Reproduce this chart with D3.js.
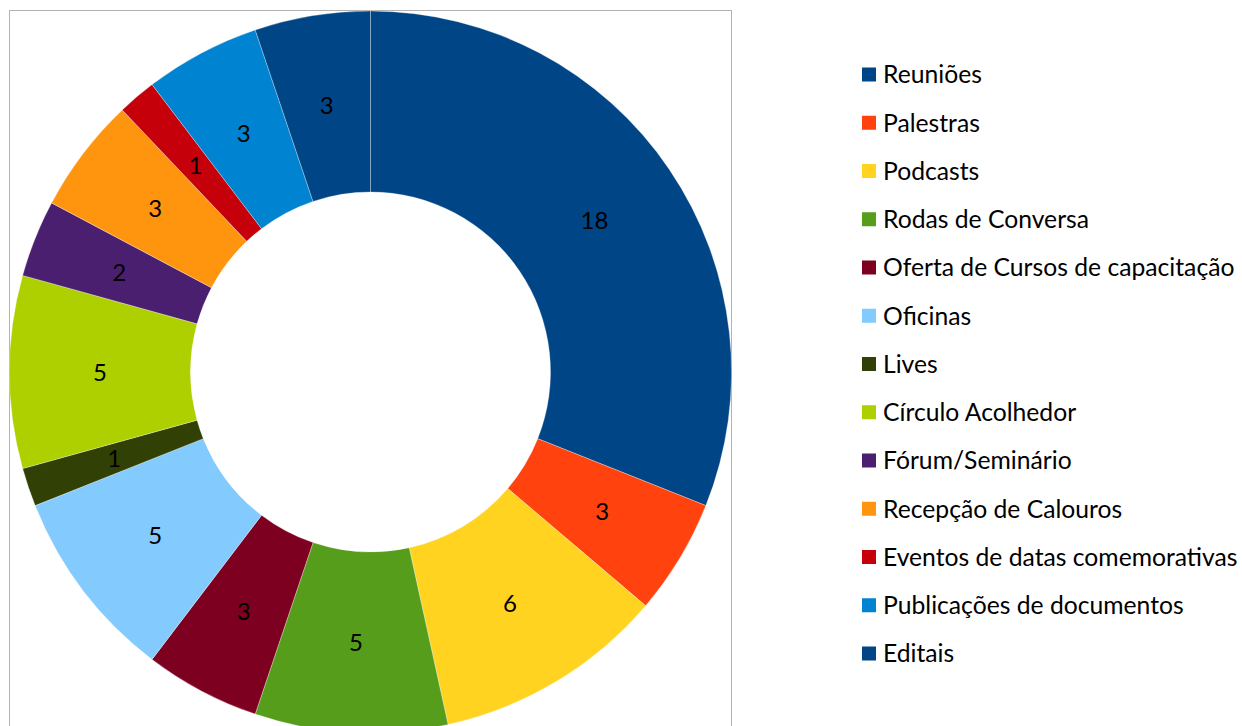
<!DOCTYPE html>
<html>
<head>
<meta charset="utf-8">
<script src="https://cdn.jsdelivr.net/npm/d3@7"></script>
<style>
  html, body { margin: 0; padding: 0; background: #fff; overflow: hidden; }
  svg { display: block; }
</style>
</head>
<body>
<div id="chart"></div>
<script>
// Activity categories and counts (clockwise from 12 o'clock)
const categories = [
    'Reuniões', 'Palestras', 'Podcasts', 'Rodas de Conversa',
    'Oferta de Cursos de capacitação', 'Oficinas', 'Lives',
    'Círculo Acolhedor', 'Fórum/Seminário', 'Recepção de Calouros',
    'Eventos de datas comemorativas', 'Publicações de documentos', 'Editais'
];
const values = [18, 3, 6, 5, 3, 5, 1, 5, 2, 3, 1, 3, 3];
const colors = [
    '#004586', '#ff420e', '#ffd320', '#579d1c', '#7e0021', '#83caff',
    '#314004', '#aecf00', '#4b1f6f', '#ff950e', '#c5000b', '#0084d1', '#004586'
];

const width = 1242;
const height = 726;
const center = { x: 370.5, y: 372 };
const outerR = 361;
const innerR = 180;
const fontFamily = 'Lato, "Open Sans", sans-serif';

const svg = d3.select('#chart')
    .append('svg')
    .attr('width', width)
    .attr('height', height);

// plot area frame (bottom runs off the page)
svg.append('rect')
    .attr('x', 9.5)
    .attr('y', 10.5)
    .attr('width', 722)
    .attr('height', 760)
    .attr('fill', 'none')
    .attr('stroke', '#b3b3b3')
    .attr('stroke-width', 1);

const data = categories.map((c, i) => ({ name: c, value: values[i], color: colors[i] }));

const pie = d3.pie()
    .sort(null)
    .value(d => d.value);

const arc = d3.arc()
    .innerRadius(innerR)
    .outerRadius(outerR);

const labelArc = d3.arc()
    .innerRadius((innerR + outerR) / 2)
    .outerRadius((innerR + outerR) / 2);

const g = svg.append('g')
    .attr('transform', `translate(${center.x},${center.y})`);

const arcs = pie(data);

g.selectAll('.slice')
    .data(arcs)
    .enter()
    .append('path')
    .attr('class', 'slice')
    .attr('d', arc)
    .attr('fill', d => d.data.color)
    .attr('stroke', 'rgba(255,255,255,0.3)')
    .attr('stroke-width', 1);

g.selectAll('.slice-label')
    .data(arcs)
    .enter()
    .append('text')
    .attr('class', 'slice-label')
    .attr('transform', d => `translate(${labelArc.centroid(d)})`)
    .attr('text-anchor', 'middle')
    .attr('dy', '0.36em')
    .attr('font-family', fontFamily)
    .attr('font-size', '24px')
    .attr('fill', '#000')
    .text(d => d.data.value);

// Legend
const legendX = 862;
const legendY0 = 74.5;
const legendStep = 48.25;

const legend = svg.selectAll('.legend-item')
    .data(data)
    .enter()
    .append('g')
    .attr('class', 'legend-item')
    .attr('transform', (d, i) => `translate(${legendX},${legendY0 + i * legendStep})`);

legend.append('rect')
    .attr('x', 0)
    .attr('y', -7)
    .attr('width', 14)
    .attr('height', 14)
    .attr('fill', d => d.color);

legend.append('text')
    .attr('x', 21)
    .attr('y', 0)
    .attr('dy', '0.36em')
    .attr('font-family', fontFamily)
    .attr('font-size', '24.7px')
    .attr('fill', '#000')
    .text(d => d.name);
</script>
</body>
</html>
